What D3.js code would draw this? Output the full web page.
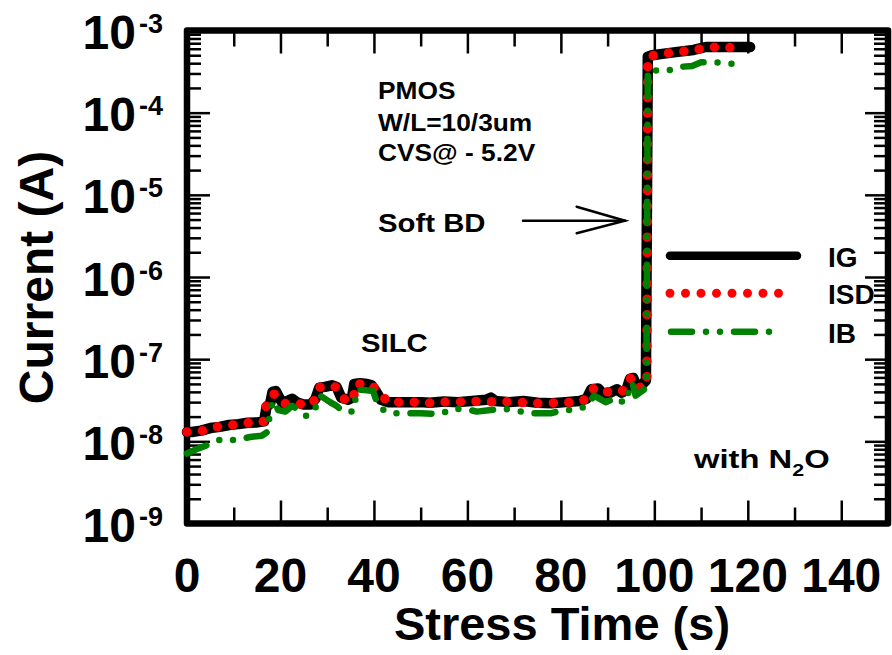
<!DOCTYPE html>
<html>
<head>
<meta charset="utf-8">
<script src="https://cdn.jsdelivr.net/npm/d3@7/dist/d3.min.js"></script>
<style>
  html, body { margin: 0; padding: 0; background: #fff; }
  svg { display: block; }
  text { font-family: "Liberation Sans", Arial, Helvetica, sans-serif; font-weight: bold; fill: #000; }
</style>
</head>
<body>
<svg id="chart" width="892" height="655"></svg>
<script>
// Gate current IG (A) versus stress time (s)
const igTime = [0, 1, 3, 5, 7, 9, 11, 13, 15, 16.5, 17, 17.8, 18.3, 19, 19.6, 20.5, 21.5, 22.5, 23.5, 25,
  26.5, 27.5, 28.3, 29.5, 31, 32, 33, 34.5, 35.3, 35.8, 37, 38.5, 39.5, 40.5, 41.5, 43, 46, 50, 52, 55,
  58, 61, 64, 65, 66, 69, 72, 75, 78, 81, 84, 85.5, 86.5, 88, 89, 90.5, 92, 93, 94, 94.8,
  95.5, 96.2, 97.2, 98.2, 98.6, 99.5, 101.7, 105, 108.4, 111, 115, 118.5, 120.5];
const igCurrent = [1.3e-8, 1.3e-8, 1.35e-8, 1.45e-8, 1.5e-8, 1.58e-8, 1.62e-8, 1.68e-8, 1.7e-8, 1.75e-8, 2.6e-8, 2.9e-8, 4.0e-8, 4.1e-8, 3.5e-8, 2.9e-8, 3.1e-8, 3.3e-8, 3.0e-8, 2.8e-8,
  2.8e-8, 3.3e-8, 4.5e-8, 4.6e-8, 4.8e-8, 4.6e-8, 3.4e-8, 3.2e-8, 3.4e-8, 5.0e-8, 5.1e-8, 5.0e-8, 4.8e-8, 4.0e-8, 3.2e-8, 3.0e-8, 3.0e-8, 3.0e-8, 2.95e-8, 3.05e-8,
  3.0e-8, 3.1e-8, 3.2e-8, 3.4e-8, 3.1e-8, 3.0e-8, 3.1e-8, 2.95e-8, 2.9e-8, 3.0e-8, 3.1e-8, 3.3e-8, 4.3e-8, 4.4e-8, 3.8e-8, 3.9e-8, 4.3e-8, 3.9e-8, 4.2e-8, 5.8e-8,
  5.9e-8, 4.6e-8, 4.8e-8, 5.5e-8, 4.8e-4, 5.0e-4, 5.2e-4, 5.5e-4, 5.8e-4, 6.3e-4, 6.3e-4, 6.3e-4, 6.3e-4];

// Source-drain current ISD (A)
const isdTime = [0, 3.2, 6.4, 9.6, 13, 16.3, 16.8, 18.5, 19.3, 20.6, 22.8, 25.7, 27.8, 28.5, 31.7, 33.4, 35.6, 36, 39.2, 41,
  43, 50, 53, 56, 60, 63, 66, 70, 73, 76, 80, 84, 86, 87.1, 88.5, 90, 92, 94, 95, 96.3,
  97.5, 98.4, 98.6, 101.7, 104.9, 108.4, 111.4, 114.9, 118.8];
const isdCurrent = [1.3e-8, 1.34e-8, 1.5e-8, 1.58e-8, 1.68e-8, 1.72e-8, 2.6e-8, 3.8e-8, 3.5e-8, 2.85e-8, 3.0e-8, 2.7e-8, 3.3e-8, 4.6e-8, 4.6e-8, 3.3e-8, 3.1e-8, 5.0e-8, 5.0e-8, 4.0e-8,
  3.0e-8, 3.0e-8, 2.9e-8, 3.05e-8, 3.0e-8, 3.1e-8, 3.0e-8, 3.05e-8, 2.9e-8, 2.9e-8, 2.95e-8, 3.0e-8, 3.4e-8, 4.5e-8, 4.2e-8, 4.0e-8, 3.9e-8, 4.3e-8, 6.0e-8, 4.6e-8,
  4.5e-8, 5.0e-8, 4.8e-4, 5.2e-4, 5.5e-4, 5.7e-4, 6.3e-4, 6.2e-4, 6.2e-4];

// Bulk current IB (A)
const ibTime = [0, 2, 5, 7.5, 10.3, 13.5, 16, 17.2, 17.6, 18.3, 18.8, 19.5, 21, 22.5, 24, 25.7, 27, 27.8, 28.5, 30.6,
  32, 33.4, 35.6, 36.4, 38, 39.8, 41, 43.5, 47, 50, 54.2, 57.1, 60, 62, 65, 67, 70, 73, 76, 78,
  80.4, 82.8, 85.7, 87.1, 89.6, 92.1, 93.5, 95.3, 96, 97.1, 98.3, 98.6, 102.6, 105.2, 108.1, 110, 113, 115.7, 118.6];
const ibCurrent = [7.1e-9, 8e-9, 9.3e-9, 1.07e-8, 1.03e-8, 1.13e-8, 1.17e-8, 1.3e-8, 1.9e-8, 3.1e-8, 3.0e-8, 2.4e-8, 2.3e-8, 2.7e-8, 2.4e-8, 2.0e-8, 2.4e-8, 2.7e-8, 3.6e-8, 3.0e-8,
  2.7e-8, 2.3e-8, 2.3e-8, 4.3e-8, 4.2e-8, 4.1e-8, 2.6e-8, 2.2e-8, 2.2e-8, 2.2e-8, 2.15e-8, 2.5e-8, 2.45e-8, 2.3e-8, 2.4e-8, 2.5e-8, 2.4e-8, 2.2e-8, 2.2e-8, 2.2e-8,
  2.4e-8, 2.4e-8, 2.7e-8, 3.6e-8, 3.0e-8, 3.4e-8, 2.9e-8, 5.2e-8, 3.6e-8, 4.0e-8, 4.5e-8, 3.3e-4, 3.2e-4, 3.6e-4, 3.7e-4, 4.1e-4, 4.1e-4, 3.95e-4, 3.95e-4];

// Axis ticks
const xTickLabels = [0, 20, 40, 60, 80, 100, 120, 140];
const xMinorTicks = [10, 30, 50, 70, 90, 110, 130];
const yDecadeExponents = [-9, -8, -7, -6, -5, -4, -3];

const seriesNames = ["IG", "ISD", "IB"];

const svg = d3.select("#chart");

const x = d3.scaleLinear().domain([0, 150]).range([187, 888]);
const y = d3.scaleLog().domain([1e-9, 1e-3]).range([523.5, 30.5]);

const frameW = 6.5;
const tickW = 2.5;

// inward ticks on all four sides
function styleAxis(g) {
  g.select(".domain").remove();
  g.selectAll(".tick line").attr("stroke", "#000").attr("stroke-width", tickW);
  g.selectAll(".tick text").remove();
}

const yMajor = yDecadeExponents.map(e => Math.pow(10, e));
const yMinor = y.ticks().filter(v => {
  const l = Math.log10(v);
  return Math.abs(l - Math.round(l)) > 1e-6;
});

const x0 = x.range()[0], x1 = x.range()[1];
const yB = y.range()[0], yT = y.range()[1];

svg.append("g").attr("transform", `translate(0,${yB})`)
  .call(d3.axisBottom(x).tickValues(xTickLabels).tickSize(-23)).call(styleAxis);
svg.append("g").attr("transform", `translate(0,${yB})`)
  .call(d3.axisBottom(x).tickValues(xMinorTicks).tickSize(-16)).call(styleAxis);
svg.append("g").attr("transform", `translate(0,${yT})`)
  .call(d3.axisTop(x).tickValues(xTickLabels).tickSize(-23)).call(styleAxis);
svg.append("g").attr("transform", `translate(0,${yT})`)
  .call(d3.axisTop(x).tickValues(xMinorTicks).tickSize(-16)).call(styleAxis);

svg.append("g").attr("transform", `translate(${x0},0)`)
  .call(d3.axisLeft(y).tickValues(yMajor).tickSize(-23)).call(styleAxis);
svg.append("g").attr("transform", `translate(${x0},0)`)
  .call(d3.axisLeft(y).tickValues(yMinor).tickSize(-14)).call(styleAxis);
svg.append("g").attr("transform", `translate(${x1},0)`)
  .call(d3.axisRight(y).tickValues(yMajor).tickSize(-23)).call(styleAxis);
svg.append("g").attr("transform", `translate(${x1},0)`)
  .call(d3.axisRight(y).tickValues(yMinor).tickSize(-14)).call(styleAxis);

// plot frame
svg.append("rect")
  .attr("x", x0).attr("y", yT)
  .attr("width", x1 - x0).attr("height", yB - yT)
  .attr("fill", "none").attr("stroke", "#000")
  .attr("stroke-width", frameW).attr("stroke-linejoin", "round");

// x tick labels
svg.append("g").selectAll("text").data(xTickLabels).join("text")
  .attr("x", d => x(d)).attr("y", 592)
  .attr("text-anchor", "middle")
  .attr("font-size", 48)
  .text(d => d);

// y tick labels: 10 with superscript exponent
const yLab = svg.append("g").selectAll("text").data(yDecadeExponents).join("text")
  .attr("x", 163).attr("y", d => y(Math.pow(10, d)) + 18.5)
  .attr("text-anchor", "end")
  .attr("font-size", 48);
yLab.append("tspan").text("10");
yLab.append("tspan").attr("font-size", 27).attr("dy", -16).attr("dx", 3).text(d => String(d));

// axis titles
svg.append("text")
  .attr("x", 562).attr("y", 640)
  .attr("text-anchor", "middle").attr("font-size", 47)
  .text("Stress Time (s)");
svg.append("text")
  .attr("transform", "translate(53,277.5) rotate(-90)")
  .attr("text-anchor", "middle").attr("font-size", 48)
  .text("Current (A)");

// series
const line = d3.line().x(d => x(d[0])).y(d => y(d[1]));
const zipSeries = (t, v) => t.map((ti, i) => [ti, v[i]]);

const styles = {
  IG:  { stroke: "#000000", width: 10.5, legendWidth: 8.5, dash: null },
  ISD: { stroke: "#ff0000", width: 9.5, legendWidth: 9, dash: "0 15.5" },
  IB:  { stroke: "#008000", width: 6.5, legendWidth: 6.5, dash: "21 14 0 14 0 14" }
};
const seriesData = {
  IG: zipSeries(igTime, igCurrent),
  ISD: zipSeries(isdTime, isdCurrent),
  IB: zipSeries(ibTime, ibCurrent)
};

seriesNames.forEach(name => {
  const s = styles[name];
  svg.append("path")
    .datum(seriesData[name])
    .attr("d", line)
    .attr("fill", "none")
    .attr("stroke", s.stroke)
    .attr("stroke-width", s.width)
    .attr("stroke-linecap", "round")
    .attr("stroke-linejoin", "round")
    .attr("stroke-dasharray", s.dash);
});

// legend
const legendRows = [
  { name: "IG", y: 255.7, x0: 670, x1: 797 },
  { name: "ISD", y: 293.3, x0: 670, x1: 794 },
  { name: "IB", y: 331.7, x0: 671, x1: 783 }
];
const lg = svg.append("g");
legendRows.forEach(r => {
  const s = styles[r.name];
  lg.append("line")
    .attr("x1", r.x0).attr("x2", r.x1).attr("y1", r.y).attr("y2", r.y)
    .attr("stroke", s.stroke).attr("stroke-width", s.legendWidth)
    .attr("stroke-linecap", "round")
    .attr("stroke-dasharray", s.dash);
  lg.append("text")
    .attr("x", 828).attr("y", r.y + 11)
    .attr("font-size", 28)
    .text(r.name);
});

// annotations
function note(txt, xp, yp, size, sx) {
  return svg.append("text")
    .attr("transform", `translate(${xp},${yp}) scale(${sx},1)`)
    .attr("font-size", size)
    .text(txt);
}
note("PMOS", 378, 99.3, 23.5, 1.12);
note("W/L=10/3um", 378, 131, 23.5, 1.12);
note("CVS@ - 5.2V", 378, 161, 23.5, 1.12);
note("Soft BD", 378, 231.7, 25.5, 1.15);
note("SILC", 361, 352, 25.5, 1.15);
const n2o = note("with N", 694, 468, 26, 1.26);
n2o.append("tspan").attr("font-size", 17).attr("dy", 8).text("2");
n2o.append("tspan").attr("dy", -8).text("O");

// arrow pointing at the breakdown jump
const arrow = svg.append("g").attr("stroke", "#000").attr("stroke-width", 2.5)
  .attr("fill", "none").attr("stroke-linecap", "round");
arrow.append("line").attr("x1", 523).attr("y1", 220.7).attr("x2", 625).attr("y2", 220.7);
arrow.append("polyline").attr("points", "576.7,206.7 625,220.7 576.7,233.3");
</script>
</body>
</html>
